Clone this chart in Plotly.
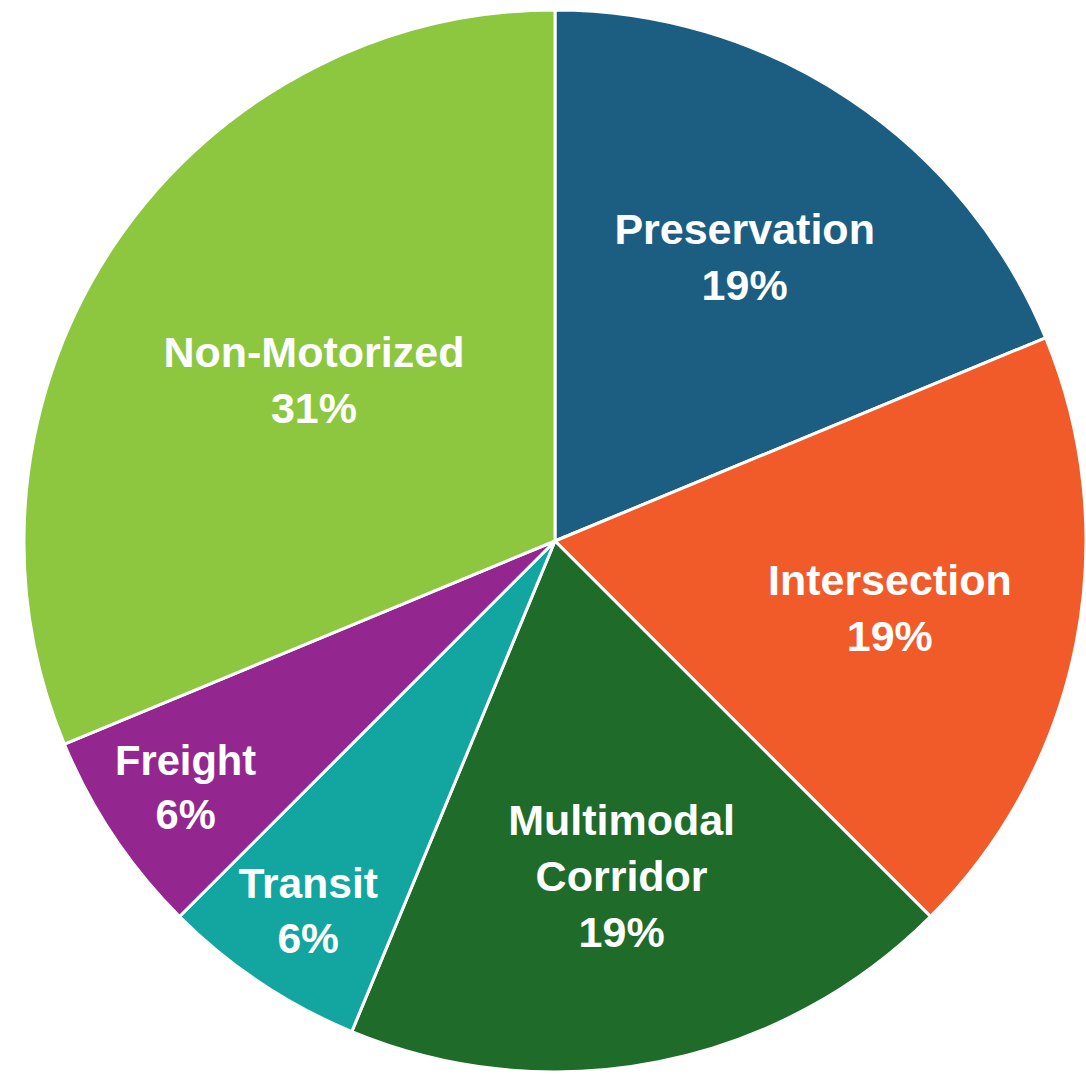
import plotly.graph_objects as go

categories = ["Preservation", "Intersection", "Multimodal Corridor", "Transit", "Freight", "Non-Motorized"]
display_names = ["Preservation", "Intersection", "Multimodal<br>Corridor", "Transit", "Freight", "Non-Motorized"]
values = [3, 3, 3, 1, 1, 5]
colors = ["#1B5E82", "#F15A29", "#1E6B2A", "#13A6A1", "#93278F", "#8DC63F"]

W, H = 1086, 1084

fig = go.Figure(go.Pie(
    labels=categories,
    values=values,
    text=display_names,
    texttemplate="%{text}<br>%{percent:.0%}",
    textposition="inside",
    insidetextorientation="horizontal",
    textfont=dict(family="Liberation Sans, Arial, sans-serif", size=43, color="white", weight="bold"),
    marker=dict(colors=colors, line=dict(color="white", width=3)),
    sort=False,
    direction="clockwise",
    rotation=0,
    showlegend=False,
    hoverinfo="label+percent",
    domain=dict(x=[24 / W, 1.0], y=[11 / H, 1075 / H]),
))

fig.update_layout(
    width=W, height=H,
    margin=dict(l=0, r=0, t=0, b=0),
    paper_bgcolor="white",
    plot_bgcolor="white",
)

fig.write_html("out.html", config={"displayModeBar": False},
               post_script="document.body.style.margin='0';")
